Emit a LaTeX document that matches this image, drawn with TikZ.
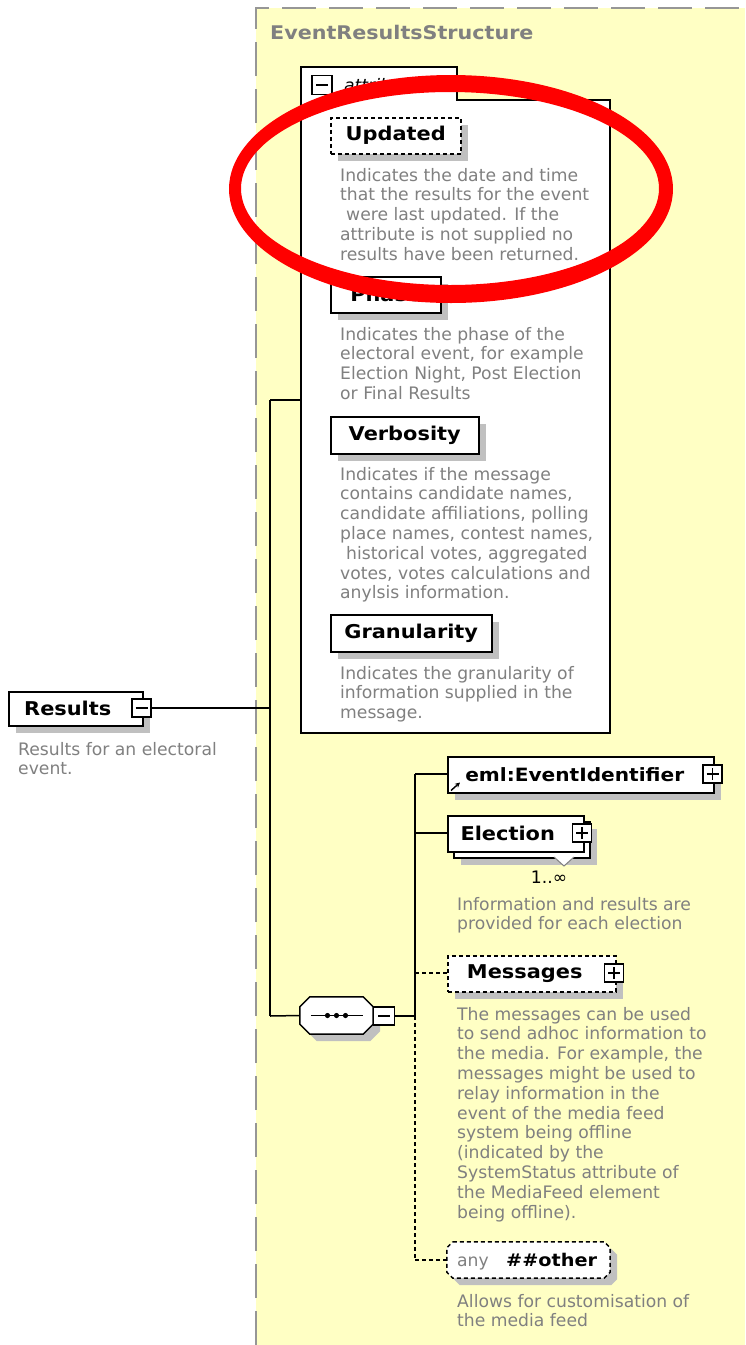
\documentclass[tikz,border=0pt]{standalone}
\usepackage{fontspec}
\setmainfont{DejaVu Sans}
\newfontfamily\lblfont{DejaVu Sans Bold}[FakeStretch=1.1]
\usetikzlibrary{shadows,arrows.meta}
\definecolor{bgyellow}{RGB}{255,255,196}
\definecolor{descgray}{RGB}{128,128,128}
\definecolor{shadowgray}{RGB}{192,192,192}
\definecolor{bordergray}{RGB}{150,150,150}
\definecolor{ringred}{RGB}{255,0,0}
\newcommand{\dlines}[1]{\parbox[t]{320pt}{\raggedright #1}}
\newcommand{\octapath}[2]{([xshift=#2]#1.north west) -- ([xshift=-#2]#1.north east) -- ([yshift=-#2]#1.north east) -- ([yshift=#2]#1.south east) -- ([xshift=-#2]#1.south east) -- ([xshift=#2]#1.south west) -- ([yshift=#2]#1.south west) -- ([yshift=-#2]#1.north west) -- cycle}
\begin{document}
\begin{tikzpicture}[x=1pt,y=-1pt,
  conn/.style={line width=1.5pt, draw=black},
  dconn/.style={conn, dash pattern=on 4pt off 3pt},
  shadowed/.style={drop shadow={shadow xshift=7pt, shadow yshift=-7pt, fill=shadowgray, opacity=1}},
  elem/.style={draw=black, line width=1.5pt, fill=white, inner sep=0pt, anchor=north west, font=\lblfont\fontsize{19}{22}\selectfont},
  optional/.style={dash pattern=on 4pt off 3pt},
  pm/.style={draw=black, line width=1.2pt, fill=white, minimum width=19pt, minimum height=18pt, inner sep=0pt},
  desc/.style={anchor=base west, inner sep=0pt, text=descgray, font=\fontsize{17.2}{19.8}\selectfont},
]
\useasboundingbox (0,0) rectangle (745,1345);
\fill[white] (0,0) rectangle (745,1345);
% complex type region
\fill[bgyellow] (256,8) rectangle (745,1345);
\draw[bordergray, line width=2pt, dash pattern=on 34pt off 13pt] (256,1345) -- (256,8) -- (745,8);
\node[anchor=base west, inner sep=0pt, text=descgray, font=\lblfont\fontsize{18.8}{22}\selectfont] (title) at (270,39) {EventResultsStructure};

% attributes group
\draw[line width=1.5pt, fill=white] (301,67) -- (457,67) -- (457,100) -- (610,100) -- (610,733) -- (301,733) -- cycle;
\coordinate (attrin) at (301,400);
\node[pm, minimum width=20pt, minimum height=19pt] (attrmin) at (322,85) {};
\draw[line width=1.2pt] ([xshift=-6pt]attrmin.center) -- ([xshift=6pt]attrmin.center);
\node[anchor=base west, inner sep=0pt, font=\fontsize{17.2}{20}\selectfont\itshape] (attrlabel) at (344,91) {attributes};

\node[elem, shadowed, optional, minimum width=130pt, minimum height=36pt] (updated) at (330,117) {Updated};
\node[desc] (updateddesc) at (340,181) {\dlines{Indicates the date and time\\that the results for the event\\\hspace*{0.35em}were last updated. If the\\attribute is not supplied no\\results have been returned.}};

\node[elem, shadowed, minimum width=110pt, minimum height=36pt] (phase) at (330,276) {Phase};
\node[desc] (phasedesc) at (340,340) {\dlines{Indicates the phase of the\\electoral event, for example\\Election Night, Post Election\\or Final Results}};

\node[elem, shadowed, minimum width=148pt, minimum height=37pt] (verbosity) at (330,416) {Verbosity};
\node[desc] (verbositydesc) at (340,480) {\dlines{Indicates if the message\\contains candidate names,\\candidate affiliations, polling\\place names, contest names,\\\hspace*{0.35em}historical votes, aggregated\\votes, votes calculations and\\anylsis information.}};

\node[elem, shadowed, minimum width=161pt, minimum height=37pt] (granularity) at (330,614) {Granularity};
\node[desc] (granularitydesc) at (340,679) {\dlines{Indicates the granularity of\\information supplied in the\\message.}};

% root element
\node[elem, shadowed, minimum width=134pt, minimum height=34pt] (results) at (8,691) {Results\hspace*{16pt}};
\node[pm] (resmin) at (141.5,708) {};
\draw[line width=1.2pt] ([xshift=-6pt]resmin.center) -- ([xshift=6pt]resmin.center);
\node[desc] (resultsdesc) at (18,755) {\dlines{Results for an electoral\\event.}};

% sequence compositor
\node[inner sep=0pt, minimum width=73pt, minimum height=37pt] (seq) at (336.5,1015.5) {};
\draw[line width=1.5pt, fill=white, shadowed] \octapath{seq}{10pt};
\draw[line width=1.2pt] ([xshift=11pt]seq.west) -- ([xshift=-10pt]seq.east);
\foreach \dx in {-9,0,9} \fill ([xshift=\dx pt]seq.center) circle (2.6pt);
\node[pm, minimum width=21pt] (seqmin) at (384,1016) {};
\draw[line width=1.2pt] ([xshift=-6pt]seqmin.center) -- ([xshift=6pt]seqmin.center);

% children
\node[elem, shadowed, minimum width=266pt, minimum height=36pt, font=\lblfont\fontsize{18.3}{22}\selectfont] (eml) at (447,756) {eml:EventIdentifier\hspace*{12pt}};
\draw[line width=1.4pt, -{Stealth[length=5pt,width=5pt]}] ([xshift=4pt,yshift=3pt]eml.south west) -- ([xshift=13pt,yshift=11pt]eml.south west);
\node[pm] (emlplus) at (712.5,774) {};
\draw[line width=1.2pt] ([xshift=-6pt]emlplus.center) -- ([xshift=6pt]emlplus.center) ([yshift=-6pt]emlplus.center) -- ([yshift=6pt]emlplus.center);

\node[elem, shadowed, minimum width=136pt, minimum height=36pt] (elecback) at (453,821) {};
\draw[line width=1pt, draw=descgray, fill=white] (554,857) -- (564,866) -- (574,857);
\node[elem, minimum width=136pt, minimum height=36pt] (election) at (447,815) {Election\hspace*{16pt}};
\node[pm] (elecplus) at (582,833) {};
\draw[line width=1.2pt] ([xshift=-6pt]elecplus.center) -- ([xshift=6pt]elecplus.center) ([yshift=-6pt]elecplus.center) -- ([yshift=6pt]elecplus.center);
\node[anchor=base, inner sep=0pt, font=\fontsize{17.2}{20}\selectfont] (mult) at (549,883) {1..∞};
\node[desc] (electiondesc) at (457,910) {\dlines{Information and results are\\provided for each election}};

\node[elem, shadowed, optional, minimum width=168pt, minimum height=36pt] (messages) at (447,955) {Messages\hspace*{14pt}};
\node[pm] (msgplus) at (614,973) {};
\draw[line width=1.2pt] ([xshift=-6pt]msgplus.center) -- ([xshift=6pt]msgplus.center) ([yshift=-6pt]msgplus.center) -- ([yshift=6pt]msgplus.center);
\node[desc] (messagesdesc) at (457,1020) {\dlines{The messages can be used\\to send adhoc information to\\the media. For example, the\\messages might be used to\\relay information in the\\event of the media feed\\system being offline\\(indicated by the\\SystemStatus attribute of\\the MediaFeed element\\being offline).}};

\node[inner sep=0pt, minimum width=163pt, minimum height=36pt] (anyother) at (528.5,1260) {};
\draw[line width=1.5pt, optional, fill=white, shadowed] \octapath{anyother}{6pt};
\node[anchor=base west, inner sep=0pt, text=descgray, font=\fontsize{17.2}{20}\selectfont] (anylbl) at (457,1266) {any};
\node[anchor=base west, inner sep=0pt, font=\lblfont\fontsize{17.5}{22}\selectfont] (otherlbl) at (506,1266) {\#\#other};
\node[desc] (anydesc) at (457,1307) {\dlines{Allows for customisation of\\the media feed}};

% connectors
\coordinate (jres) at (270,708);
\coordinate (jtop) at (270,400);
\coordinate (jbot) at (270,1016);
\coordinate (k1) at (415,774);
\coordinate (k2) at (415,833);
\coordinate (kseq) at (415,1016);
\coordinate (k3) at (415,973);
\coordinate (k4) at (415,1260);
\draw[conn] (resmin.east) -- (jres);
\draw[conn] (jtop) -- (jbot);
\draw[conn] (jtop) -- (attrin);
\draw[conn] (jbot) -- (seq.west);
\draw[conn] (seqmin.east) -- (kseq);
\draw[conn] (k1) -- (kseq);
\draw[conn] (k1) -- (eml.west |- k1);
\draw[conn] (k2) -- (election.west |- k2);
\draw[dconn] (kseq) -- (k4);
\draw[dconn] (k3) -- (messages.west |- k3);
\draw[dconn] (k4) -- (anyother.west);

% red annotation ring
\fill[ringred, even odd rule] (451,189) ellipse [x radius=222, y radius=114] (450,188.5) ellipse [x radius=209, y radius=96.5];
\end{tikzpicture}
\end{document}
